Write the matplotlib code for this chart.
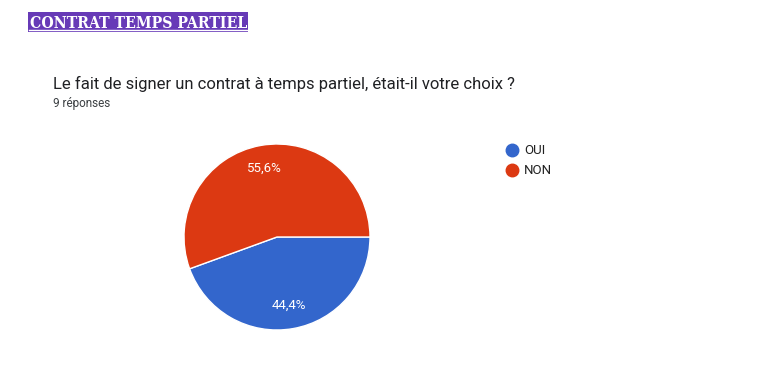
import matplotlib
matplotlib.use("Agg")
import matplotlib.pyplot as plt
from matplotlib.lines import Line2D
from matplotlib.patches import Rectangle

header = "CONTRAT TEMPS PARTIEL"
question = "Le fait de signer un contrat à temps partiel, était-il votre choix ?"
n_responses = "9 réponses"
categories = ["OUI", "NON"]
counts = [4, 5]
colors = ["#3366cc", "#dc3912"]

W, H = 762, 372
fig = plt.figure(figsize=(W / 100, H / 100), dpi=100)
fig.patch.set_facecolor("white")

def px(x, y):
    return x / W, 1 - y / H

# Header box
fig.add_artist(Rectangle(px(28, 31.5), 220 / W, 20 / H, transform=fig.transFigure,
                         facecolor="#673ab7", edgecolor="none"))
t = fig.text(*px(29.5, 28), header, fontsize=12, fontweight="bold",
             family="DejaVu Serif", fontstretch="condensed",
             color="white", va="baseline", ha="left")
fig.canvas.draw()
bb = t.get_window_extent()
t.set_fontsize(12 * 217 / bb.width)
fig.add_artist(Line2D([29 / W, 247 / W], [1 - 29.5 / H, 1 - 29.5 / H], color="white", lw=1.0))

fig.text(*px(53, 84), question, fontsize=12, family="Roboto", color="#202124", va="center", ha="left")
fig.text(*px(53, 104), n_responses, fontsize=8.5, family="Roboto", color="#3c4043", va="center", ha="left")

# Pie
cx, cy, r = 277, 237, 93
ax = fig.add_axes([(cx - r) / W, (H - cy - r) / H, 2 * r / W, 2 * r / H])
wedges, texts, autotexts = ax.pie(
    counts, colors=colors, startangle=0, counterclock=False,
    autopct=lambda p: f"{p:.1f}%".replace(".", ","), pctdistance=0.75,
    wedgeprops=dict(edgecolor="white", linewidth=1),
    textprops=dict(color="white", fontsize=9.5, family="Roboto"))
ax.set_xlim(-1, 1)
ax.set_ylim(-1, 1)
ax.set_aspect("equal")
ax.axis("off")

# Legend
for i, (cat, col) in enumerate(zip(categories, colors)):
    y = 150 + 20 * i
    fig.add_artist(Line2D([512 / W], [1 - y / H], marker="o", markersize=9,
                          color=col, linestyle="none"))
    fig.text(*px(524, y), cat, fontsize=9.5, family="Roboto", color="#222222", va="center", ha="left")

fig.savefig("out.png", dpi=100)
